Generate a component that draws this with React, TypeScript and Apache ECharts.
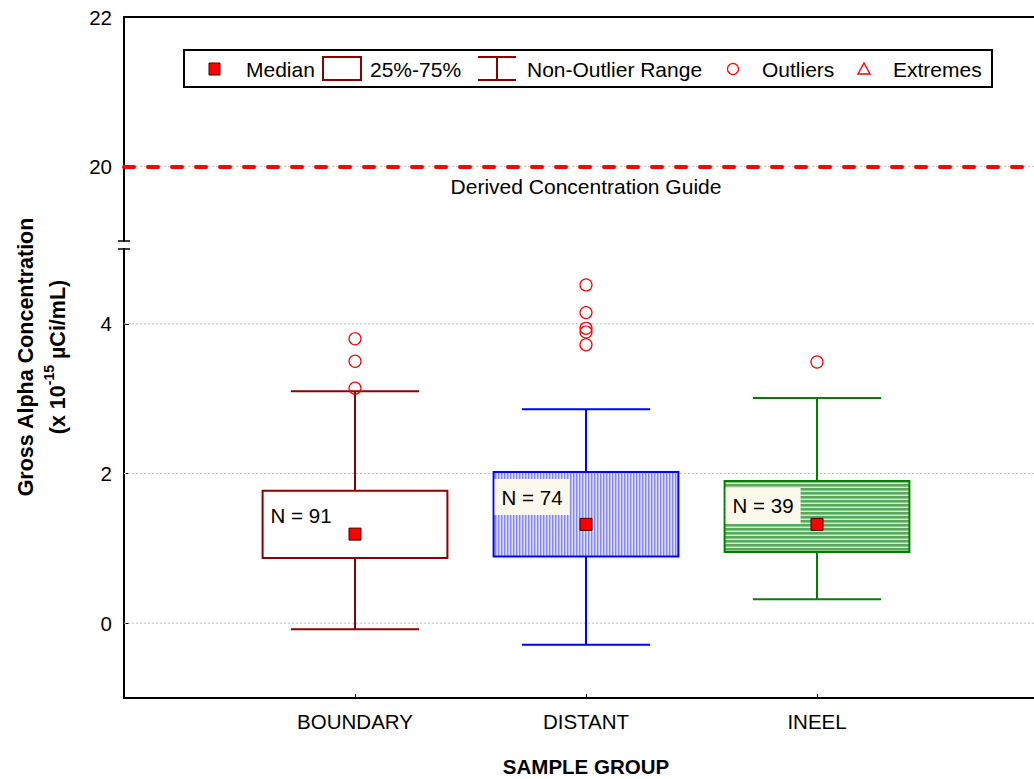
import React, { useEffect, useRef } from "react";
import * as echarts from "echarts";

// ---------- data ----------
const categories = ["BOUNDARY", "DISTANT", "INEEL"];
const whiskerLow = [-0.08, -0.29, 0.32];
const q1 = [0.87, 0.89, 0.95];
const median = [1.19, 1.32, 1.32];
const q3 = [1.77, 2.02, 1.9];
const whiskerHigh = [3.1, 2.86, 3.01];
const nCounts = [91, 74, 39];
const outliersBoundary = [3.8, 3.5, 3.14];
const outliersDistant = [4.52, 4.15, 3.94, 3.89, 3.72];
const outliersIneel = [3.49];
const derivedConcentrationGuide = 20;
const lowerTicks = [0, 2, 4];
const upperTicks = [20, 22];

const FONT = 'Arial, "Liberation Sans", Helvetica, sans-serif';
const strokeColors = ["#8b0000", "#0000ff", "#008000"];
const labelBg = ["rgba(255,255,255,0)", "#fdf8ec", "#fdf8ec"];
const GRID_COLOR = "#bdbdbd";

function stripePattern(colors: string[], vertical: boolean) {
  const c = document.createElement("canvas");
  const n = colors.length;
  c.width = vertical ? n : 1;
  c.height = vertical ? 1 : n;
  const ctx = c.getContext("2d")!;
  colors.forEach((col, i) => {
    ctx.fillStyle = col;
    if (vertical) ctx.fillRect(i, 0, 1, 1);
    else ctx.fillRect(0, i, 1, 1);
  });
  return {
    image: c.toDataURL(),
    repeat: "repeat",
    imageWidth: c.width,
    imageHeight: c.height,
  };
}

export default function App() {
  const ref = useRef<HTMLDivElement>(null);

  useEffect(() => {
    if (!ref.current) return;
    const chart = echarts.init(ref.current, null, { renderer: "svg" });

    const fills: any[] = [
      "#ffffff",
      stripePattern(["#8686f6", "#b9bbf9", "#dcdcfd"], true),
      stripePattern(["#5aa85a", "#5aa85a", "#8cc68c", "#d4ead4"], false),
    ];

    const boxData = categories.map((_, i) => [
      i + 1,
      whiskerLow[i],
      q1[i],
      median[i],
      q3[i],
      whiskerHigh[i],
      nCounts[i],
    ]);
    const medianData = categories.map((_, i) => [i + 1, median[i]]);
    const outlierGroups = [outliersBoundary, outliersDistant, outliersIneel];
    const outlierData: number[][] = [];
    outlierGroups.forEach((g, i) => g.forEach((v) => outlierData.push([i + 1, v])));

    const axisLine = { show: true, onZero: false, lineStyle: { color: "#000", width: 2 } };
    const labelStyle = { fontSize: 20.5, color: "#000", fontFamily: FONT };

    const gridLineSeries = lowerTicks.map((v) => ({
      type: "line",
      xAxisIndex: 1,
      yAxisIndex: 1,
      data: [
        [0, v],
        [4, v],
      ],
      symbol: "none",
      silent: true,
      z: 1,
      lineStyle: { color: GRID_COLOR, width: 1, type: [2, 2] },
    }));

    const legendY = 69;
    const dark = "#8b0000";
    const LFS = 21;

    const option: any = {
      animation: false,
      backgroundColor: "#ffffff",
      textStyle: { fontFamily: FONT },
      grid: [
        { left: 124, top: 17, width: 924, height: 224, containLabel: false, outerBoundsMode: "none" },
        { left: 124, top: 249, width: 924, height: 449, containLabel: false, outerBoundsMode: "none" },
      ],
      xAxis: [
        {
          gridIndex: 0,
          type: "value",
          min: 0,
          max: 4,
          position: "top",
          axisLine,
          axisTick: { show: false },
          axisLabel: { show: false },
          splitLine: { show: false },
        },
        {
          gridIndex: 1,
          type: "value",
          min: 0,
          max: 4,
          position: "bottom",
          axisLine,
          axisTick: {
            show: true,
            inside: true,
            length: 4,
            customValues: [1, 2, 3],
            lineStyle: { color: "#000", width: 1 },
          },
          axisLabel: {
            ...labelStyle,
            margin: 13,
            customValues: [1, 2, 3],
            formatter: (v: number) => categories[Math.round(v) - 1] ?? "",
          },
          splitLine: { show: false },
          name: "SAMPLE GROUP",
          nameLocation: "middle",
          nameGap: 58,
          nameTextStyle: { fontSize: 20.5, fontWeight: "bold", color: "#000", fontFamily: FONT },
        },
      ],
      yAxis: [
        {
          gridIndex: 0,
          type: "value",
          min: 19,
          max: 22,
          axisLine,
          axisTick: {
            show: true,
            inside: true,
            length: 5,
            customValues: upperTicks,
            lineStyle: { color: "#000", width: 1 },
          },
          axisLabel: { ...labelStyle, margin: 12, customValues: upperTicks },
          splitLine: { show: false },
        },
        {
          gridIndex: 1,
          type: "value",
          min: -1,
          max: 5,
          axisLine,
          axisTick: {
            show: true,
            inside: true,
            length: 5,
            customValues: lowerTicks,
            lineStyle: { color: "#000", width: 1 },
          },
          axisLabel: { ...labelStyle, margin: 12, customValues: lowerTicks },
          splitLine: { show: false },
        },
      ],
      series: [
        ...gridLineSeries,
        {
          type: "line",
          xAxisIndex: 0,
          yAxisIndex: 0,
          data: [
            [0, derivedConcentrationGuide],
            [4, derivedConcentrationGuide],
          ],
          symbol: "none",
          silent: true,
          z: 1,
          lineStyle: { color: GRID_COLOR, width: 1, type: [2, 2] },
          markLine: {
            silent: true,
            symbol: "none",
            lineStyle: { color: "#ff0000", width: 4, type: [10, 14], cap: "round" },
            label: {
              show: true,
              position: "insideMiddleBottom",
              formatter: "Derived Concentration Guide",
              fontSize: LFS,
              color: "#000",
              fontFamily: FONT,
              distance: 10,
            },
            data: [{ yAxis: derivedConcentrationGuide }],
          },
        },
        {
          type: "custom",
          xAxisIndex: 1,
          yAxisIndex: 1,
          data: boxData,
          z: 2,
          silent: true,
          renderItem: (params: any, api: any) => {
            const i = params.dataIndex;
            const x = api.value(0);
            const low = api.coord([x, api.value(1)]);
            const p1 = api.coord([x, api.value(2)]);
            const p3 = api.coord([x, api.value(4)]);
            const high = api.coord([x, api.value(5)]);
            const boxW = api.size([0.8, 0])[0];
            const capW = api.size([0.555, 0])[0];
            const cx = low[0];
            const color = strokeColors[i];
            const ls = { stroke: color, lineWidth: 2 };
            return {
              type: "group",
              children: [
                { type: "line", shape: { x1: cx, y1: high[1], x2: cx, y2: low[1] }, style: ls },
                { type: "line", shape: { x1: cx - capW / 2, y1: high[1], x2: cx + capW / 2, y2: high[1] }, style: ls },
                { type: "line", shape: { x1: cx - capW / 2, y1: low[1], x2: cx + capW / 2, y2: low[1] }, style: ls },
                {
                  type: "rect",
                  shape: { x: cx - boxW / 2, y: p3[1], width: boxW, height: p1[1] - p3[1] },
                  style: { fill: fills[i], stroke: color, lineWidth: 2 },
                },
                {
                  type: "text",
                  x: cx - boxW / 2 + 1,
                  y: p3[1] + 7,
                  style: {
                    text: "N = " + api.value(6),
                    fontSize: 20.5,
                    fontFamily: FONT,
                    fill: "#000",
                    backgroundColor: labelBg[i],
                    padding: [7, 7, 7, 7],
                    lineHeight: 22,
                  },
                },
              ],
            };
          },
        },
        {
          type: "scatter",
          xAxisIndex: 1,
          yAxisIndex: 1,
          data: medianData,
          symbol: "rect",
          symbolSize: 12,
          z: 4,
          silent: true,
          itemStyle: { color: "#ff0000", borderColor: "#400000", borderWidth: 1, opacity: 1 },
        },
        {
          type: "scatter",
          xAxisIndex: 1,
          yAxisIndex: 1,
          data: outlierData,
          symbol: "circle",
          symbolSize: 12,
          z: 4,
          silent: true,
          itemStyle: { color: "rgba(255,255,255,0)", borderColor: "#ff0000", borderWidth: 1.2, opacity: 1 },
        },
      ],
      graphic: [
        // axis break marks
        { type: "line", shape: { x1: 118, y1: 241, x2: 130, y2: 241 }, style: { stroke: "#000", lineWidth: 1.5 } },
        { type: "line", shape: { x1: 118, y1: 249, x2: 130, y2: 249 }, style: { stroke: "#000", lineWidth: 1.5 } },
        // y-axis title
        {
          type: "text",
          x: 42,
          y: 357,
          rotation: Math.PI / 2,
          style: {
            text: "{b|Gross Alpha Concentration}\n{b|(x 10}{s|-15}{b| µCi/mL)}",
            align: "center",
            verticalAlign: "middle",
            fill: "#000",
            rich: {
              b: { fontSize: 21.5, fontWeight: "bold", fontFamily: FONT, lineHeight: 32, fill: "#000" },
              s: { fontSize: 14, fontWeight: "bold", fontFamily: FONT, lineHeight: 15, verticalAlign: "top", fill: "#000" },
            },
          },
        },
        // legend
        {
          type: "group",
          children: [
            { type: "rect", shape: { x: 184, y: 50, width: 808, height: 37 }, style: { fill: "#fff", stroke: "#000", lineWidth: 2 } },
            { type: "rect", shape: { x: 209, y: legendY - 6, width: 11, height: 12 }, style: { fill: "#ff0000", stroke: "#400000", lineWidth: 1 } },
            { type: "text", x: 246, y: legendY, style: { text: "Median", fontSize: LFS, fontFamily: FONT, fill: "#000", verticalAlign: "middle" } },
            { type: "rect", shape: { x: 323, y: 57, width: 38, height: 23 }, style: { fill: "#fff", stroke: dark, lineWidth: 2 } },
            { type: "text", x: 370, y: legendY, style: { text: "25%-75%", fontSize: LFS, fontFamily: FONT, fill: "#000", verticalAlign: "middle" } },
            { type: "line", shape: { x1: 478, y1: 57, x2: 516, y2: 57 }, style: { stroke: dark, lineWidth: 2 } },
            { type: "line", shape: { x1: 478, y1: 80, x2: 516, y2: 80 }, style: { stroke: dark, lineWidth: 2 } },
            { type: "line", shape: { x1: 497, y1: 57, x2: 497, y2: 80 }, style: { stroke: dark, lineWidth: 2 } },
            { type: "text", x: 527, y: legendY, style: { text: "Non-Outlier Range", fontSize: LFS, fontFamily: FONT, fill: "#000", verticalAlign: "middle" } },
            { type: "circle", shape: { cx: 733, cy: legendY, r: 5.5 }, style: { fill: "none", stroke: "#ff0000", lineWidth: 1.2 } },
            { type: "text", x: 762, y: legendY, style: { text: "Outliers", fontSize: LFS, fontFamily: FONT, fill: "#000", verticalAlign: "middle" } },
            {
              type: "polygon",
              shape: { points: [[864, legendY - 6], [870, legendY + 5], [858, legendY + 5]] },
              style: { fill: "none", stroke: "#ff0000", lineWidth: 1.4 },
            },
            { type: "text", x: 893, y: legendY, style: { text: "Extremes", fontSize: LFS, fontFamily: FONT, fill: "#000", verticalAlign: "middle" } },
          ],
        },
      ],
    };

    chart.setOption(option);
    return () => chart.dispose();
  }, []);

  return (
    <div
      ref={ref}
      style={{ position: "fixed", left: 0, top: 0, width: 1034, height: 779, background: "#fff" }}
    />
  );
}
